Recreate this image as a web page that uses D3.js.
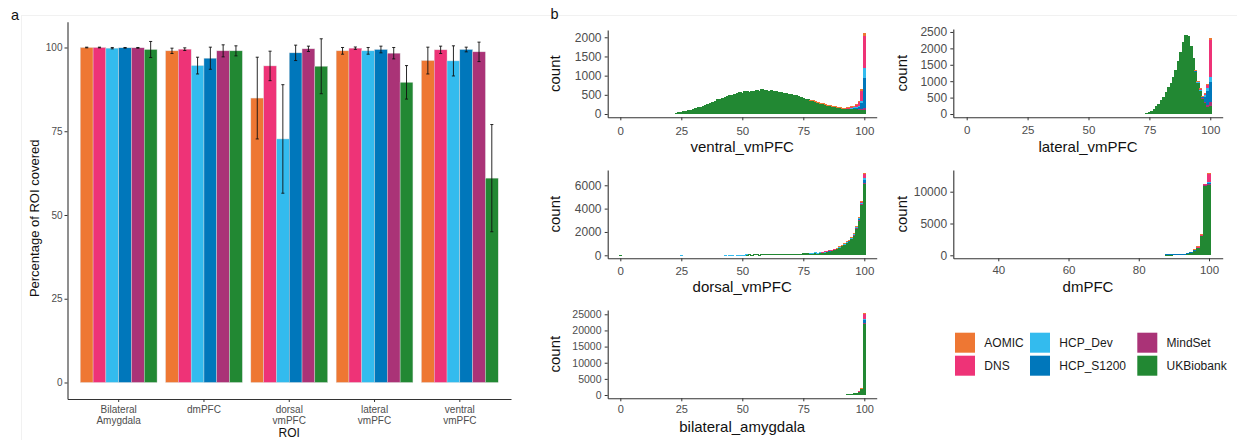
<!DOCTYPE html>
<html>
<head>
<meta charset="utf-8">
<script src="https://cdn.jsdelivr.net/npm/d3@7"></script>
<style>
  html, body { margin: 0; padding: 0; background: #fff; }
  svg { display: block; font-family: "Liberation Sans", Arial, Helvetica, sans-serif; }
</style>
</head>
<body>
<svg id="fig" width="1237" height="440"></svg>
<script>
// ---------------- data ----------------
const datasets = ["AOMIC", "DNS", "HCP_Dev", "HCP_S1200", "MindSet", "UKBiobank"];
const colours  = ["#EE7733", "#EE3377", "#33BBEE", "#0077BB", "#AA3377", "#228833"];

const rois = ["Bilateral Amygdala", "dmPFC", "dorsal vmPFC", "lateral vmPFC", "ventral vmPFC"];
const roiLabels = [["Bilateral", "Amygdala"], ["dmPFC"], ["dorsal", "vmPFC"], ["lateral", "vmPFC"], ["ventral", "vmPFC"]];
const coverTicks = [0, 25, 50, 75, 100];

// mean percentage of each ROI covered (ROI order as in `rois`)
const meanAOMIC     = [100.0, 99.0, 84.9, 99.0, 96.1];
const meanDNS       = [100.0, 99.5, 94.5, 99.8, 99.3];
const meanHCP_Dev   = [ 99.8, 94.6, 72.7, 99.0, 96.0];
const meanHCP_S1200 = [ 99.9, 96.8, 98.4, 99.4, 99.4];
const meanMindSet   = [ 99.9, 99.0, 99.6, 98.3, 98.7];
const meanUKBiobank = [ 99.4, 99.0, 94.4, 89.6, 61.0];

// standard deviation shown as error bars
const sdAOMIC     = [0.1, 0.8, 12.2, 1.0,  4.0];
const sdDNS       = [0.1, 0.4,  4.4, 0.35, 1.1];
const sdHCP_Dev   = [0.2, 2.5, 16.2, 1.0,  4.5];
const sdHCP_S1200 = [0.1, 3.3,  2.3, 1.0,  0.7];
const sdMindSet   = [0.1, 1.8,  0.8, 1.7,  2.9];
const sdUKBiobank = [2.4, 1.5,  8.2, 5.0, 16.0];

// per-subject coverage histograms: counts in 1%-wide bins, starting at the given bin
const ventral_UKBiobank = [30, 40, 55, 70, 85, 100, 115,
  135, 150, 175, 195, 215, 240, 260, 290, 320, 345,
  380, 400, 430, 440, 470, 500, 485, 530, 545, 570,
  560, 590, 600, 585, 610, 600, 625, 610, 640, 615,
  630, 600, 620, 590, 605, 575, 585, 550, 560, 530,
  520, 500, 485, 460, 440, 425, 400, 380, 360, 340,
  320, 300, 285, 265, 245, 230, 215, 200, 190, 175,
  165, 155, 150, 140, 135, 130, 130, 120, 115, 110, 100];           // from 23
const ventral_MindSet   = [5, 20, 60];                                 // from 98
const ventral_HCP_S1200 = [10, 15, 25, 30, 40, 60, 150, 780];          // from 93
const ventral_HCP_Dev   = [10, 15, 20, 30, 60, 250];                   // from 95
const ventral_DNS       = [10, 15, 20, 30, 55, 90, 250, 850];          // from 93
const ventral_AOMIC     = [10, 15, 10, 5, 5, 10, 5, 5, 10, 10, 10, 5, 10, 5, 10,
  10, 10, 15, 15, 25, 30, 60, 60];                                     // from 78

const lateral_UKBiobank = [40, 70, 90, 150, 230, 320, 420, 530, 680, 820, 950, 1120, 1350,
  1620, 1900, 2200, 2400, 2380, 2080, 1700, 1310, 960, 700, 470, 330, 200, 250]; // from 74
const lateral_MindSet   = [15, 30, 60, 125];                           // from 97
const lateral_HCP_S1200 = [10, 20, 30, 40, 170, 450, 610];             // from 94
const lateral_HCP_Dev   = [10, 15, 10, 40, 80, 155];                   // from 95
const lateral_DNS       = [10, 20, 20, 40, 80, 1120];                  // from 95
const lateral_AOMIC     = [20, 20, 15, 5, 20, 35, 70];                 // from 94

const dorsal_UKBiobank = [60, 70, 60, 70, 70, 60, 70, 70, 80, 70, 80, 80, 80, 90, 80, 90,
  90, 100, 90, 100, 110, 110, 120,
  170, 175, 180, 190, 200, 215, 230, 250, 270, 300, 340, 390, 450, 520, 600, 700,
  820, 960, 1100, 1230, 1430, 1740, 2350, 3050, 4350, 6150];           // from 52
const dorsal_UKBiobank_low = [40];                                     // from 0
const dorsal_HCP_Dev_low   = [30];                                     // from 25
const dorsal_HCP_Dev_mid   = [20, 0, 25, 20, 0, 30, 25, 20, 15, 10];   // from 43
const dorsal_HCP_Dev  = [20, 10, 30, 10, 10, 20, 25, 10, 15, 10, 10, 10, 10, 10, 10,
  10, 10, 20, 20, 20, 30, 40, 150];                                    // from 78
const dorsal_HCP_S1200 = [10, 10, 10, 15, 15, 20, 20, 25, 30, 35, 40, 40, 50, 70, 80, 250]; // from 85
const dorsal_DNS       = [10, 15, 15, 20, 20, 25, 25, 30, 35, 40, 45, 50, 40, 70, 90, 120, 130, 330]; // from 83
const dorsal_AOMIC     = [5, 5, 10, 10, 10, 15, 15, 20, 30, 40, 30, 80]; // from 89
const dorsal_MindSet   = [5, 5, 10, 30, 80];                           // from 96

const dmPFC_UKBiobank = [100, 110, 130, 150, 190, 240, 350, 540, 850, 1250, 3100, 10900, 11100]; // from 88
const dmPFC_HCP_S1200 = [60, 50, 30, 30, 30, 30, 40, 50, 60, 100, 20, 50, 350]; // from 88
const dmPFC_MindSet   = [0, 200, 50];                                  // from 98
const dmPFC_HCP_Dev   = [10, 10, 10, 0, 100];                          // from 96
const dmPFC_DNS       = [10, 20, 50, 50, 1150];                        // from 96
const dmPFC_AOMIC     = [20, 20, 150, 0, 150];                         // from 96

const amygdala_UKBiobank = [350, 400, 450, 550, 750, 1300, 2100, 22200]; // from 93
const amygdala_HCP_S1200 = [20, 60, 800];                              // from 98
const amygdala_HCP_Dev   = [0, 20, 300];                               // from 98
const amygdala_DNS       = [20, 60, 1700];                             // from 98
const amygdala_AOMIC     = [0, 10, 270];                               // from 98
const amygdala_MindSet   = [0, 10, 100];                               // from 98

const ticks0to100 = [0, 25, 50, 75, 100];
const ticksDm = [40, 60, 80, 100];

// ---------------- drawing ----------------
const svg = d3.select("#fig");
const TICK_TEXT = "#4d4d4d";
const AXIS = "#333333";

// faint outer frame lines of the figure panels
svg.append("line").attr("x1", 21).attr("x2", 1237).attr("y1", 15.5).attr("y2", 15.5)
  .attr("stroke", "#f1f1f1").attr("stroke-width", 1);
svg.append("line").attr("x1", 21.5).attr("x2", 21.5).attr("y1", 15.5).attr("y2", 440)
  .attr("stroke", "#f1f1f1").attr("stroke-width", 1);

// panel letters
svg.append("text").attr("x", 11).attr("y", 19.5).attr("font-size", 14.5).attr("fill", "#111").text("a");
svg.append("text").attr("x", 550.5).attr("y", 19).attr("font-size", 14.5).attr("fill", "#111").text("b");

function styleAxis(g, fontSize) {
  g.select(".domain").attr("stroke", AXIS).attr("stroke-width", 1.1);
  g.selectAll(".tick line").attr("stroke", AXIS).attr("stroke-width", 1);
  g.selectAll(".tick text").attr("fill", TICK_TEXT).attr("font-size", fontSize)
    .attr("font-family", "Liberation Sans, Arial, sans-serif");
}

// ----- panel a: grouped bars -----
(function () {
  const left = 67.5, right = 511, top = 21.7, bottom = 399;
  const means = [meanAOMIC, meanDNS, meanHCP_Dev, meanHCP_S1200, meanMindSet, meanUKBiobank];
  const sds = [sdAOMIC, sdDNS, sdHCP_Dev, sdHCP_S1200, sdMindSet, sdUKBiobank];

  const x0 = d3.scaleBand().domain(rois).range([left, right]).paddingInner(0.1).paddingOuter(0.15);
  const x1 = d3.scaleBand().domain(datasets).range([0, x0.bandwidth()]);
  const y = d3.scaleLinear().domain([-4.93, 107.7]).range([bottom, top]);

  const rows = [];
  rois.forEach((r, i) => datasets.forEach((d, k) => {
    rows.push({ roi: r, set: d, k, mean: means[k][i], sd: sds[k][i] });
  }));

  const g = svg.append("g");
  g.selectAll("rect.bar").data(rows).join("rect")
    .attr("class", "bar")
    .attr("x", d => x0(d.roi) + x1(d.set))
    .attr("width", x1.bandwidth())
    .attr("y", d => y(d.mean))
    .attr("height", d => y(0) - y(d.mean))
    .attr("fill", d => colours[d.k])
    .attr("stroke", "#dcdcdc").attr("stroke-width", 0.4);

  const cap = x1.bandwidth() * 0.12;
  const eb = g.selectAll("g.err").data(rows).join("g").attr("class", "err")
    .attr("stroke", "#111").attr("stroke-width", 0.9);
  eb.append("line")
    .attr("x1", d => x0(d.roi) + x1(d.set) + x1.bandwidth() / 2)
    .attr("x2", d => x0(d.roi) + x1(d.set) + x1.bandwidth() / 2)
    .attr("y1", d => y(d.mean + d.sd)).attr("y2", d => y(d.mean - d.sd));
  eb.append("line")
    .attr("x1", d => x0(d.roi) + x1(d.set) + x1.bandwidth() / 2 - cap)
    .attr("x2", d => x0(d.roi) + x1(d.set) + x1.bandwidth() / 2 + cap)
    .attr("y1", d => y(d.mean + d.sd)).attr("y2", d => y(d.mean + d.sd));
  eb.append("line")
    .attr("x1", d => x0(d.roi) + x1(d.set) + x1.bandwidth() / 2 - cap)
    .attr("x2", d => x0(d.roi) + x1(d.set) + x1.bandwidth() / 2 + cap)
    .attr("y1", d => y(d.mean - d.sd)).attr("y2", d => y(d.mean - d.sd));

  const ya = svg.append("g").attr("transform", `translate(${left},0)`)
    .call(d3.axisLeft(y).tickValues(coverTicks).tickSize(3).tickPadding(2).tickSizeOuter(0));
  styleAxis(ya, 10);

  const xa = svg.append("g").attr("transform", `translate(0,${bottom})`)
    .call(d3.axisBottom(x0).tickSize(3).tickSizeOuter(0));
  styleAxis(xa, 10);
  xa.selectAll(".tick text").each(function (d) {
    const t = d3.select(this).text(null).attr("dy", null).attr("y", 14.3);
    roiLabels[rois.indexOf(d)].forEach((line, j) => {
      t.append("tspan").attr("x", 0).attr("y", 14.3 + j * 10.5).text(line);
    });
  });

  svg.append("text").attr("transform", `translate(38.5,${(top + bottom) / 2 + 8}) rotate(-90)`)
    .attr("text-anchor", "middle").attr("font-size", 13).attr("fill", "#111")
    .text("Percentage of ROI covered");
  svg.append("text").attr("x", (left + right) / 2).attr("y", 437.3)
    .attr("text-anchor", "middle").attr("font-size", 12).attr("fill", "#111").text("ROI");
})();

// ----- panel b: stacked coverage histograms -----
const stackOrder = [5, 4, 3, 2, 1, 0]; // UKBiobank at the bottom, AOMIC on top

const histPanels = [
  { title: "ventral_vmPFC", box: [607.7, 30, 876.7, 117.3], xDomain: [-5.17, 105.08], yDomain: [-86, 2190],
    xTicks: ticks0to100, yTicks: [0, 500, 1000, 1500, 2000], yFont: 12, xFont: 11.5, xPad: 6.4,
    titleY: 151.5, countX: 560,
    series: [["UKBiobank", 23, ventral_UKBiobank], ["MindSet", 98, ventral_MindSet],
             ["HCP_S1200", 93, ventral_HCP_S1200], ["HCP_Dev", 95, ventral_HCP_Dev],
             ["DNS", 93, ventral_DNS], ["AOMIC", 78, ventral_AOMIC]] },
  { title: "lateral_vmPFC", box: [953.3, 29, 1222.7, 117.3], xDomain: [-5.5, 105.1], yDomain: [-100, 2590],
    xTicks: ticks0to100, yTicks: [0, 500, 1000, 1500, 2000, 2500], yFont: 12, xFont: 11.5, xPad: 5.8,
    titleY: 151.5, countX: 906.5,
    series: [["UKBiobank", 74, lateral_UKBiobank], ["MindSet", 97, lateral_MindSet],
             ["HCP_S1200", 94, lateral_HCP_S1200], ["HCP_Dev", 95, lateral_HCP_Dev],
             ["DNS", 95, lateral_DNS], ["AOMIC", 94, lateral_AOMIC]] },
  { title: "dorsal_vmPFC", box: [607.7, 170, 876.7, 258.3], xDomain: [-5.17, 105.08], yDomain: [-257, 7310],
    xTicks: ticks0to100, yTicks: [0, 2000, 4000, 6000], yFont: 12, xFont: 11.5, xPad: 6,
    titleY: 292, countX: 560,
    series: [["UKBiobank", 52, dorsal_UKBiobank], ["UKBiobank", 0, dorsal_UKBiobank_low],
             ["HCP_Dev", 25, dorsal_HCP_Dev_low], ["HCP_Dev", 43, dorsal_HCP_Dev_mid],
             ["MindSet", 96, dorsal_MindSet], ["HCP_S1200", 85, dorsal_HCP_S1200],
             ["HCP_Dev", 78, dorsal_HCP_Dev], ["DNS", 83, dorsal_DNS], ["AOMIC", 89, dorsal_AOMIC]] },
  { title: "dmPFC", box: [953.3, 170, 1222.7, 258.3], xDomain: [27.19, 103.9], yDomain: [-470, 13410],
    xTicks: ticksDm, yTicks: [0, 5000, 10000], yFont: 12, xFont: 11.5, xPad: 4.8,
    titleY: 291.7, countX: 906.5,
    series: [["UKBiobank", 88, dmPFC_UKBiobank], ["MindSet", 98, dmPFC_MindSet],
             ["HCP_S1200", 88, dmPFC_HCP_S1200], ["HCP_Dev", 96, dmPFC_HCP_Dev],
             ["DNS", 96, dmPFC_DNS], ["AOMIC", 96, dmPFC_AOMIC]] },
  { title: "bilateral_amygdala", box: [607.7, 310, 876.7, 398.3], xDomain: [-5.17, 105.08], yDomain: [-1020, 26330],
    xTicks: ticks0to100, yTicks: [0, 5000, 10000, 15000, 20000, 25000], yFont: 10.5, xFont: 11, xPad: 3.8,
    titleY: 432, countX: 560,
    series: [["UKBiobank", 93, amygdala_UKBiobank], ["MindSet", 98, amygdala_MindSet],
             ["HCP_S1200", 98, amygdala_HCP_S1200], ["HCP_Dev", 98, amygdala_HCP_Dev],
             ["DNS", 98, amygdala_DNS], ["AOMIC", 98, amygdala_AOMIC]] }
];

histPanels.forEach(p => {
  const [bx0, by0, bx1, by1] = p.box;
  const x = d3.scaleLinear().domain(p.xDomain).range([bx0, bx1]);
  const y = d3.scaleLinear().domain(p.yDomain).range([by1, by0]);

  // collect counts per bin and dataset
  const table = new Map();
  p.series.forEach(([set, from, counts]) => {
    const k = datasets.indexOf(set);
    counts.forEach((c, i) => {
      const b = from + i;
      if (!table.has(b)) table.set(b, datasets.map(() => 0));
      table.get(b)[k] += c;
    });
  });
  const segs = [];
  for (const [b, arr] of table) {
    let base = 0;
    stackOrder.forEach(k => {
      if (arr[k] > 0) { segs.push({ b, k, lo: base, hi: base + arr[k] }); base += arr[k]; }
    });
  }

  const g = svg.append("g").attr("shape-rendering", "crispEdges");
  g.selectAll("rect").data(segs).join("rect")
    .attr("x", d => Math.floor(x(d.b - 0.5)))
    .attr("width", d => Math.ceil(x(d.b + 0.5)) - Math.floor(x(d.b - 0.5)))
    .attr("y", d => y(d.hi))
    .attr("height", d => Math.max(1, y(d.lo) - y(d.hi)))
    .attr("fill", d => colours[d.k]);

  const ya = svg.append("g").attr("transform", `translate(${bx0},0)`)
    .call(d3.axisLeft(y).tickValues(p.yTicks).tickFormat(d3.format("d")).tickSize(3).tickPadding(3.2).tickSizeOuter(0));
  styleAxis(ya, p.yFont);
  const xa = svg.append("g").attr("transform", `translate(0,${by1})`)
    .call(d3.axisBottom(x).tickValues(p.xTicks).tickFormat(d3.format("d")).tickSize(3).tickPadding(p.xPad).tickSizeOuter(0));
  styleAxis(xa, p.xFont);

  svg.append("text").attr("x", (bx0 + bx1) / 2).attr("y", p.titleY)
    .attr("text-anchor", "middle").attr("font-size", 15).attr("fill", "#111").text(p.title);
  svg.append("text").attr("transform", `translate(${p.countX},${(by0 + by1) / 2}) rotate(-90)`)
    .attr("text-anchor", "middle").attr("font-size", 15).attr("fill", "#111").text("count");
});

// ----- legend -----
(function () {
  const colX = [955, 1030, 1137.3];
  const rowY = [332.7, 355.7];
  const lg = svg.append("g");
  datasets.forEach((d, k) => {
    const cx = colX[Math.floor(k / 2)], cy = rowY[k % 2];
    lg.append("rect").attr("x", cx).attr("y", cy).attr("width", 20).attr("height", 20)
      .attr("fill", colours[k]);
    lg.append("text").attr("x", cx + 29.3).attr("y", cy + 14.3)
      .attr("font-size", 12).attr("fill", "#1a1a1a").text(d);
  });
})();
</script>
</body>
</html>
